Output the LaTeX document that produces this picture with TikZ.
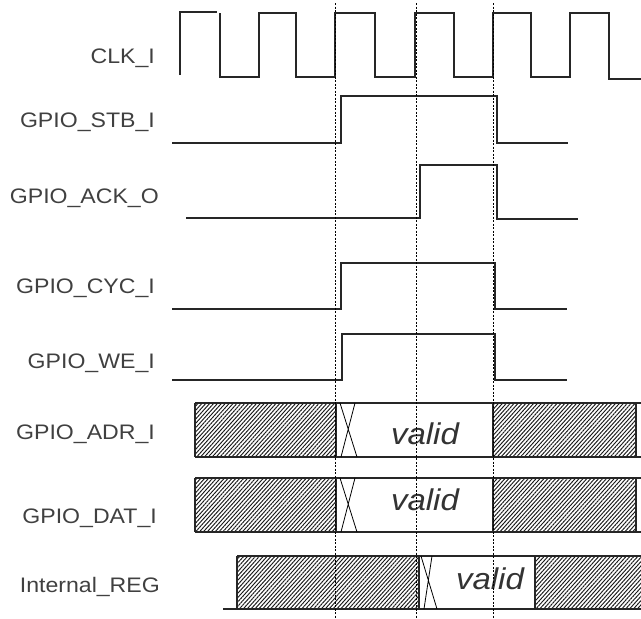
\documentclass[tikz,border=0pt]{standalone}
\usepackage{fontspec}
\newfontfamily\labfont[FakeStretch=1.1]{Liberation Sans}
\usetikzlibrary{patterns.meta}
\begin{document}
\begin{tikzpicture}[x=1pt,y=-1pt,
  wave/.style={line width=1.3pt, black!85, line join=miter},
  guide/.style={line width=0.8pt, black, dash pattern=on 2pt off 1.5pt},
  sig/.style={anchor=base east, text=black!75, font=\labfont\fontsize{21}{23}\selectfont, inner sep=0pt},
  validtxt/.style={text=black!80, font=\labfont\itshape\fontsize{30}{32}\selectfont, inner sep=0pt},
  hatch/.style={pattern={Lines[angle=48,distance=2.9pt,line width=0.95pt]}, pattern color=black!90},
  boxline/.style={line width=1.1pt, black!85}
]
\useasboundingbox (0,0) rectangle (641,619);

% labels
\node[sig] (lclk) at (155,63) {CLK\_I};
\node[sig] (lstb) at (155,127) {GPIO\_STB\_I};
\node[sig] (lack) at (159,203) {GPIO\_ACK\_O};
\node[sig] (lcyc) at (155,293) {GPIO\_CYC\_I};
\node[sig] (lwe) at (155,368) {GPIO\_WE\_I};
\node[sig] (ladr) at (155,439) {GPIO\_ADR\_I};
\node[sig] (ldat) at (157,523) {GPIO\_DAT\_I};
\node[sig] (lreg) at (160,592) {Internal\_REG};

% hatched areas (drawn first)
\fill[hatch] (195,403) rectangle (336,457);
\fill[hatch] (493,403) rectangle (636,457);
\fill[hatch] (195,478) rectangle (336,532);
\fill[hatch] (493,478) rectangle (636,532);
\fill[hatch] (237,556) rectangle (419,609);
\fill[hatch] (535,556) rectangle (641,609);

% clock
\draw[wave] (180,75) -- (180,12) -- (217,12);
\draw[wave] (220,13) -- (220,77) -- (259,77) -- (259,13) -- (296,13) -- (296,77)
  -- (335,77) -- (335,13) -- (375,13) -- (375,77) -- (415,77) -- (415,13)
  -- (454,13) -- (454,77) -- (493,77) -- (493,13) -- (531,13) -- (531,77)
  -- (570,77) -- (570,13) -- (609,13) -- (609,79) -- (641,79);

% STB
\draw[wave] (172,143) -- (341,143) -- (341,96) -- (497,96) -- (497,143) -- (568,143);
% ACK
\draw[wave] (186,218) -- (420,218) -- (420,165) -- (497,165) -- (497,219) -- (578,219);
% CYC
\draw[wave] (172,309) -- (341,309) -- (341,263) -- (495,263) -- (495,309) -- (567,309);
% WE
\draw[wave] (172,380) -- (342,380) -- (342,334) -- (495,334) -- (495,380) -- (567,380);

% ADR bus
\draw[boxline] (195,403) -- (641,403);
\draw[boxline] (195,457) -- (641,457);
\draw[boxline] (195,403) -- (195,457);
\draw[boxline] (336,403) -- (336,457);
\draw[boxline] (493,403) -- (493,457);
\draw[boxline] (636,403) -- (636,457);
\draw[line width=0.8pt] (340,403) -- (357,457) (355,403) -- (341,457);
\node[validtxt] (vadr) at (425,434) {valid};

% DAT bus
\draw[boxline] (195,478) -- (641,478);
\draw[boxline] (195,532) -- (641,532);
\draw[boxline] (195,478) -- (195,532);
\draw[boxline] (336,478) -- (336,532);
\draw[boxline] (493,478) -- (493,532);
\draw[boxline] (636,478) -- (636,532);
\draw[line width=0.8pt] (340,478) -- (357,532) (355,478) -- (341,532);
\node[validtxt] (vdat) at (425,500) {valid};

% Internal REG
\draw[boxline] (237,556) -- (641,556);
\draw[boxline] (223,609) -- (641,609);
\draw[boxline] (237,556) -- (237,609);
\draw[boxline] (419,556) -- (419,609);
\draw[boxline] (535,556) -- (535,609);
\draw[line width=0.8pt] (421,556) -- (437,609) (432,556) -- (424,609);
\node[validtxt] (vreg) at (490,579) {valid};

% guide lines
\coordinate (g1t) at (335,3); \coordinate (g1b) at (335,619);
\coordinate (g2t) at (416,3); \coordinate (g2b) at (416,619);
\coordinate (g3t) at (493,3); \coordinate (g3b) at (493,619);
\draw[guide] (g1t) -- (g1b);
\draw[guide] (g2t) -- (g2b);
\draw[guide] (g3t) -- (g3b);
\end{tikzpicture}
\end{document}
